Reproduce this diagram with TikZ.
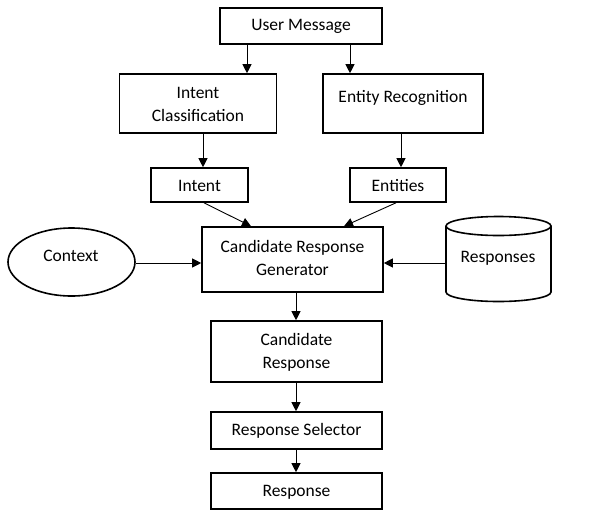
\documentclass[tikz,border=0pt]{standalone}
\usepackage{fontspec}
\setmainfont{Carlito}
\usetikzlibrary{arrows.meta,shapes.geometric}
\begin{document}
\begin{tikzpicture}[x=1pt,y=-1pt,
  box/.style={draw,line width=1.6pt,inner sep=0pt},
  lbl/.style={font=\fontsize{17.5}{23}\selectfont,inner sep=0pt,align=center},
  conn/.style={line width=0.9pt,-{Triangle[length=9pt,width=9pt]}}]
\useasboundingbox (0,0) rectangle (599,520);
% boxes
\node[box,minimum width=162pt,minimum height=36pt] (um) at (301,26) {};
\node[box,minimum width=157pt,minimum height=59pt] (ic) at (198,103.5) {};
\node[box,minimum width=160pt,minimum height=59pt] (er) at (403,103.5) {};
\node[box,minimum width=97pt,minimum height=34pt] (in) at (199.5,185) {};
\node[box,minimum width=96pt,minimum height=34pt] (en) at (398,185) {};
\node[box,minimum width=181pt,minimum height=65pt] (crg) at (292.5,259.5) {};
\node[box,ellipse,minimum width=127pt,minimum height=68pt] (ctx) at (71.5,262) {};
\node[minimum width=106pt,minimum height=86pt,inner sep=0pt] (rs) at (499,259) {};
\node[box,minimum width=171pt,minimum height=61pt] (cr) at (296.5,351.5) {};
\node[box,minimum width=171pt,minimum height=37pt] (sel) at (296.5,430.5) {};
\node[box,minimum width=171pt,minimum height=36pt] (resp) at (296.5,491) {};
% cylinder
\draw[line width=1.6pt] (446,226) -- (446,292) arc[start angle=180,end angle=360,x radius=52.5pt,y radius=9.5pt] -- (551,226);
\draw[line width=1.6pt] (498.5,226) ellipse[x radius=52.5pt,y radius=9.5pt];
% texts
\node[lbl] (tum) at (301,26) {User Message};
\node[lbl] (tic) at (198,104.5) {Intent\\Classification};
\node[lbl] (ter) at (403,98) {Entity Recognition};
\node[lbl] (tin) at (199.5,186) {Intent};
\node[lbl] (ten) at (398,186) {Entities};
\node[lbl] (tcrg) at (292.5,257.5) {Candidate Response\\Generator};
\node[lbl] (tctx) at (71,256) {Context};
\node[lbl] (trs) at (498,258) {Responses};
\node[lbl] (tcr) at (296.5,352) {Candidate\\Response};
\node[lbl] (tsel) at (296.5,431) {Response Selector};
\node[lbl] (tresp) at (296.5,492) {Response};
% connectors
\draw[conn] (um.south -| 247,0) -- (ic.north -| 247,0);
\draw[conn] (um.south -| 350,0) -- (er.north -| 350,0);
\draw[conn] (ic.south -| 203,0) -- (in.north -| 203,0);
\draw[conn] (er.south -| 401,0) -- (en.north -| 401,0);
\draw[conn] (in.south -| 204,0) -- (crg.north -| 251,0);
\draw[conn] (en.south -| 396,0) -- (crg.north -| 344,0);
\draw[conn] (ctx.east |- 0,263) -- (crg.west |- 0,263);
\draw[conn] (rs.west |- 0,263) -- (crg.east |- 0,263);
\draw[conn] (crg.south -| 296,0) -- (cr.north -| 296,0);
\draw[conn] (cr.south -| 296,0) -- (sel.north -| 296,0);
\draw[conn] (sel.south -| 296,0) -- (resp.north -| 296,0);
\end{tikzpicture}
\end{document}
